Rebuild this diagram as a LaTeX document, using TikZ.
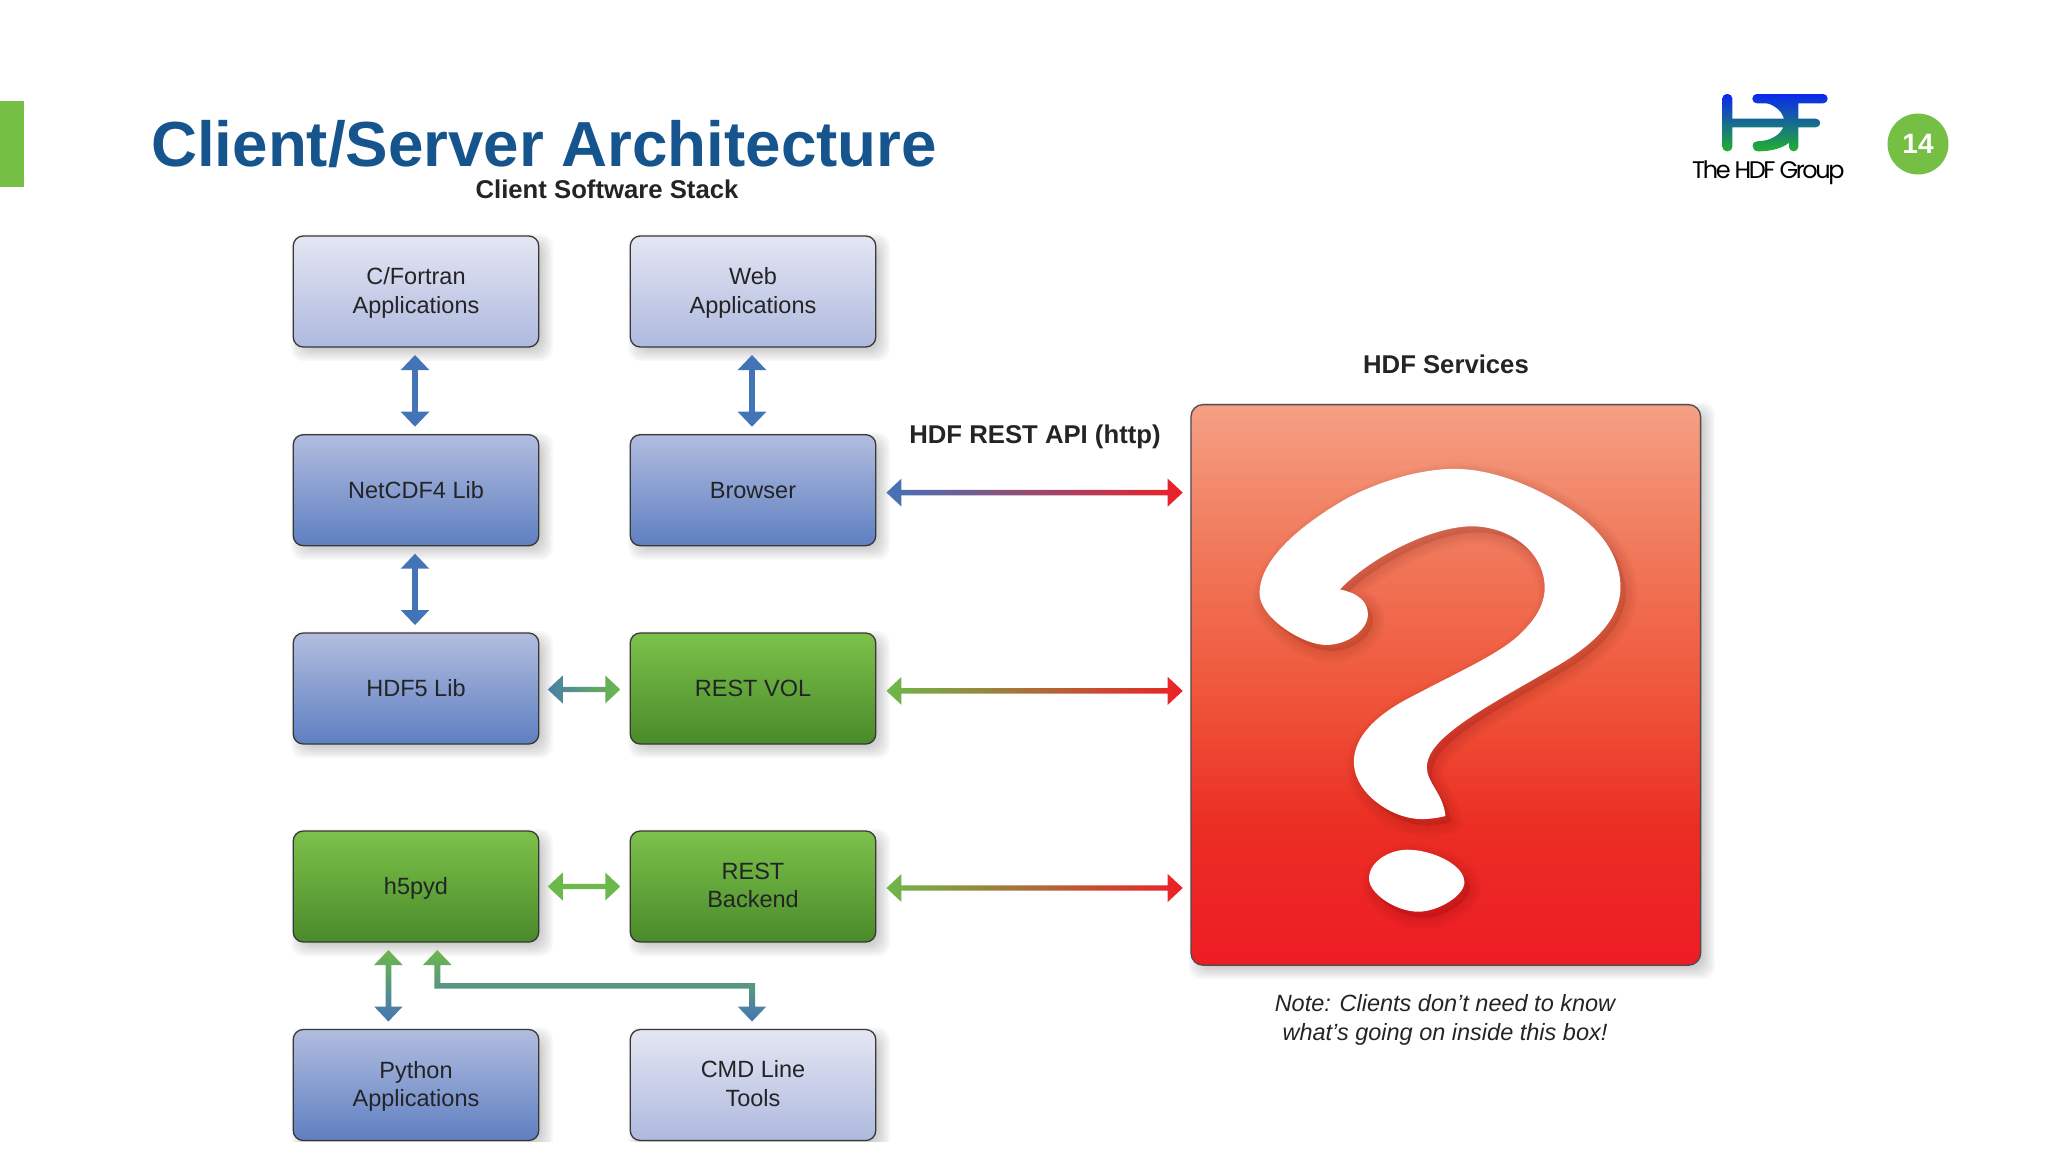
\documentclass[tikz,border=0pt]{standalone}
\usepackage{fontspec}
\setmainfont{Liberation Sans}
\newfontfamily\logofont[LetterSpace=-10]{Poppins}
\usetikzlibrary{calc,backgrounds}
\definecolor{titleblue}{HTML}{15548C}
\definecolor{barblue}{HTML}{4474B8}
\definecolor{bargreen}{HTML}{6DB84A}
\definecolor{barred}{HTML}{EC2027}
\definecolor{barteal}{HTML}{5A9E8A}
\definecolor{slidegreen}{HTML}{74BF44}
\definecolor{textdark}{HTML}{222426}
\definecolor{rbzero}{RGB}{245,160,132}
\definecolor{rbone}{RGB}{241,122,92}
\definecolor{rbtwo}{RGB}{239,88,60}
\definecolor{rbthree}{RGB}{235,46,36}
\definecolor{rbfour}{RGB}{237,28,36}
\definecolor{logotop}{RGB}{10,40,240}
\definecolor{logobottom}{RGB}{34,176,46}
\pgfdeclareverticalshading{redgrad}{100bp}{color(0bp)=(rbfour); color(25bp)=(rbfour); color(37.5bp)=(rbthree); color(50bp)=(rbtwo); color(62.5bp)=(rbone); color(75bp)=(rbzero); color(100bp)=(rbzero)}
\tikzset{
  archbox/.style={draw=black!78,line width=1.3pt,rounded corners=10pt,minimum width=245.5pt,minimum height=111pt,inner sep=0pt,outer sep=0pt,align=center,text=textdark,font=\fontsize{23.5}{28.5}\selectfont},
  lightbox/.style={archbox,top color={rgb,255:red,228;green,230;blue,243},bottom color={rgb,255:red,174;green,185;blue,222}},
  midbox/.style={archbox,top color={rgb,255:red,178;green,189;blue,223},bottom color={rgb,255:red,94;green,127;blue,193}},
  greenbox/.style={archbox,top color={rgb,255:red,124;green,194;blue,74},bottom color={rgb,255:red,74;green,138;blue,42}},
  headlabel/.style={font=\fontsize{25.7}{30}\selectfont\bfseries,text=textdark,inner sep=0pt},
  logoshade/.style={top color=logotop,bottom color=logobottom},
}
\pgfdeclarelayer{background}
\pgfsetlayers{background,main}
\newcommand\softshadow[1]{%
  \begin{pgfonlayer}{background}
    \begin{scope}
    \clip (0,0) rectangle (2048,1141);
    \foreach \e in {8,6,4,2,0,-2,-4,-6}{%
      \fill[black,opacity=.03,rounded corners=12pt]
        ($(#1.north west)+(6-\e,6-\e)$) rectangle ($(#1.south east)+(6+\e,6+\e)$);
    }
    \end{scope}
  \end{pgfonlayer}}
\newcommand\hdouble[7]{%
  \coordinate (p) at ($(#1.east)+(#3,#5)$);
  \coordinate (q) at ($(#2.west |- p)+(-#4,0)$);
  \shade[left color=#6,right color=#7]
    (p) -- ($(p)+(15,-14)$) -- ($(p)+(15,-2.7)$) -- ($(q)+(-15,-2.7)$) -- ($(q)+(-15,-14)$) -- (q)
    -- ($(q)+(-15,14)$) -- ($(q)+(-15,2.7)$) -- ($(p)+(15,2.7)$) -- ($(p)+(15,14)$) -- cycle;}
\newcommand\vdouble[5]{%
  \coordinate (p) at ($(#1.south)+(#3,8)$);
  \coordinate (q) at ($(#2.north)+(#3,-8)$);
  \shade[top color=#4,bottom color=#5]
    (p) -- ($(p)+(-14.3,15)$) -- ($(p)+(-2.9,15)$) -- ($(q)+(-2.9,-15)$) -- ($(q)+(-14.3,-15)$) -- (q)
    -- ($(q)+(14.3,-15)$) -- ($(q)+(2.9,-15)$) -- ($(p)+(2.9,15)$) -- ($(p)+(14.3,15)$) -- cycle;}
\def\qmark{(855,495) .. controls (890,505) and (905,530) .. (905,560)
 .. controls (905,600) and (870,640) .. (830,640)
 .. controls (790,640) and (712,570) .. (712,505)
 .. controls (712,420) and (780,330) .. (870,255)
 .. controls (930,210) and (1000,180) .. (1060,180)
 .. controls (1130,180) and (1210,230) .. (1270,290)
 .. controls (1330,350) and (1355,420) .. (1355,490)
 .. controls (1355,570) and (1310,640) .. (1230,705)
 .. controls (1160,765) and (1090,820) .. (1050,870)
 .. controls (1025,900) and (1010,930) .. (1010,960)
 .. controls (1010,1000) and (1040,1030) .. (1043,1087)
 .. controls (1030,1092) and (1015,1095) .. (1000,1095)
 .. controls (950,1095) and (880,1030) .. (880,945)
 .. controls (880,880) and (920,820) .. (990,770)
 .. controls (1060,715) and (1130,670) .. (1170,620)
 .. controls (1200,580) and (1220,540) .. (1220,490)
 .. controls (1220,400) and (1160,330) .. (1090,330)
 .. controls (1020,330) and (910,410) .. (855,495) -- cycle
 (975,1175) .. controls (1020,1175) and (1077,1215) .. (1077,1260)
 .. controls (1077,1295) and (1030,1337) .. (995,1337)
 .. controls (955,1337) and (907,1290) .. (907,1250)
 .. controls (907,1205) and (945,1175) .. (975,1175) -- cycle}
\begin{document}
\begin{tikzpicture}[x=1pt,y=-1pt]
\useasboundingbox (0,0) rectangle (2048,1152);
\fill[slidegreen] (0,101) rectangle (24,187);
\node[anchor=base west,inner sep=0pt,text=titleblue,font=\fontsize{63.7}{70}\selectfont\bfseries] (title) at (151,166.5) {Client/Server Architecture};
\node[circle,fill=slidegreen,minimum size=61pt,inner sep=0pt,text=white,font=\fontsize{28}{30}\selectfont\bfseries] (pageno) at (1918,144) {14};
% logo
\begin{scope}[shift={(1650,70)},x=0.3333pt,y=-0.3333pt]
  \begin{scope}
    \clip[rounded corners=4.5pt] (217,72) rectangle (247,244)
      (217,146) rectangle (511,172)
      (307,72) rectangle (533,100)
      (417,72) rectangle (445,244);
    \shade[logoshade] (210,72) rectangle (540,244);
  \end{scope}
  \begin{scope}
    \clip (345,98) .. controls (375,105) and (398,125) .. (402,148) -- (425,148) -- (425,98) -- cycle
      (400,170) .. controls (392,195) and (360,214) .. (320,214)
        .. controls (303,214) and (303,244) .. (325,244)
        .. controls (365,244) and (400,235) .. (425,212) -- (425,170) -- cycle;
    \shade[logoshade] (210,72) rectangle (540,244);
  \end{scope}
\end{scope}
\node[anchor=base west,inner sep=0pt,font=\logofont\fontsize{24}{28}\selectfont] (logotext) at (1692,178) {The HDF Group};
% headings
\node[headlabel] (stack) at (607,189) {Client Software Stack};
\node[headlabel] (services) at (1446,364) {HDF Services};
\node[headlabel] (api) at (1035,436.5) {HDF REST API (http)};
% boxes
\node[lightbox] (cfortran) at (416,291.5) {\rule{0pt}{19.6pt}C/Fortran\\Applications};
\node[lightbox] (web) at (753,291.5) {\rule{0pt}{19.6pt}Web\\Applications};
\node[midbox] (netcdf) at (416,490.2) {NetCDF4 Lib};
\node[midbox] (browser) at (753,490.2) {Browser};
\node[midbox] (hdffive) at (416,688.5) {HDF5 Lib};
\node[greenbox] (restvol) at (753,688.5) {REST VOL};
\node[greenbox] (hpyd) at (416,886.5) {\rule{0pt}{21pt}h5pyd};
\node[greenbox] (backend) at (753,886.5) {REST\\Backend\rule[-2.6pt]{0pt}{0pt}};
\node[midbox] (python) at (416,1085) {\rule{0pt}{19.6pt}Python\\Applications};
\node[lightbox] (cmd) at (753,1085) {CMD Line\\Tools\rule[-2.6pt]{0pt}{0pt}};
\node[draw=black!70,line width=1.3pt,rounded corners=12pt,minimum width=509.6pt,minimum height=560.6pt,inner sep=0pt,outer sep=0pt,shade,shading=redgrad] (svc) at (1445.8,684.9) {};
\foreach \n in {cfortran,web,netcdf,browser,hdffive,restvol,hpyd,backend,python,cmd,svc}{\softshadow{\n}}
% question mark
\begin{scope}[shift={(860,400)},x=0.5612pt,y=-0.3827pt]
  \foreach \w in {24,20,16,12,8,4}{%
    \begin{scope}[transform canvas={shift={(5pt,-6pt)}}]
      \path[draw=black!70!red,fill=black!70!red,opacity=.018,line width=\w pt,line join=round] \qmark;
    \end{scope}}
  \fill[white] \qmark;
\end{scope}
% connectors
\vdouble{cfortran}{netcdf}{-1}{barblue}{barblue}
\vdouble{web}{browser}{-1}{barblue}{barblue}
\vdouble{netcdf}{hdffive}{-1}{barblue}{barblue}
\hdouble{hdffive}{restvol}{9}{10}{1}{barblue!85!bargreen}{bargreen}
\hdouble{hpyd}{backend}{9}{10}{0}{bargreen}{bargreen}
\hdouble{browser}{svc}{10.7}{8.3}{2.4}{barblue}{barred}
\hdouble{restvol}{svc}{10.7}{8.3}{2.4}{bargreen}{barred}
\hdouble{backend}{svc}{10.7}{8.3}{1.5}{bargreen}{barred}
\vdouble{hpyd}{python}{-27.6}{bargreen}{barblue}
\coordinate (lup) at ($(hpyd.south)+(21.3,8)$);
\coordinate (ldown) at ($(cmd.north)+(-1,-8)$);
\shade[top color=bargreen,middle color=barteal,bottom color=barblue]
  (lup) -- ($(lup)+(-14.3,15)$) -- ($(lup)+(-3,15)$) -- ($(lup)+(-3,38.5)$) -- ($(ldown |- lup)+(-3,38.5)$)
  -- ($(ldown)+(-3,-15)$) -- ($(ldown)+(-14.3,-15)$) -- (ldown) -- ($(ldown)+(14.3,-15)$) -- ($(ldown)+(3,-15)$)
  -- ($(ldown |- lup)+(3,33)$) -- ($(lup)+(3,33)$) -- ($(lup)+(3,15)$) -- ($(lup)+(14.3,15)$) -- cycle;
% note
\node[align=center,inner sep=0pt,text=textdark,font=\fontsize{23.5}{28.5}\selectfont\itshape] (note) at (1445,1020) {Note: Clients don’t need to know\\what’s going on inside this box!};
\end{tikzpicture}
\end{document}
